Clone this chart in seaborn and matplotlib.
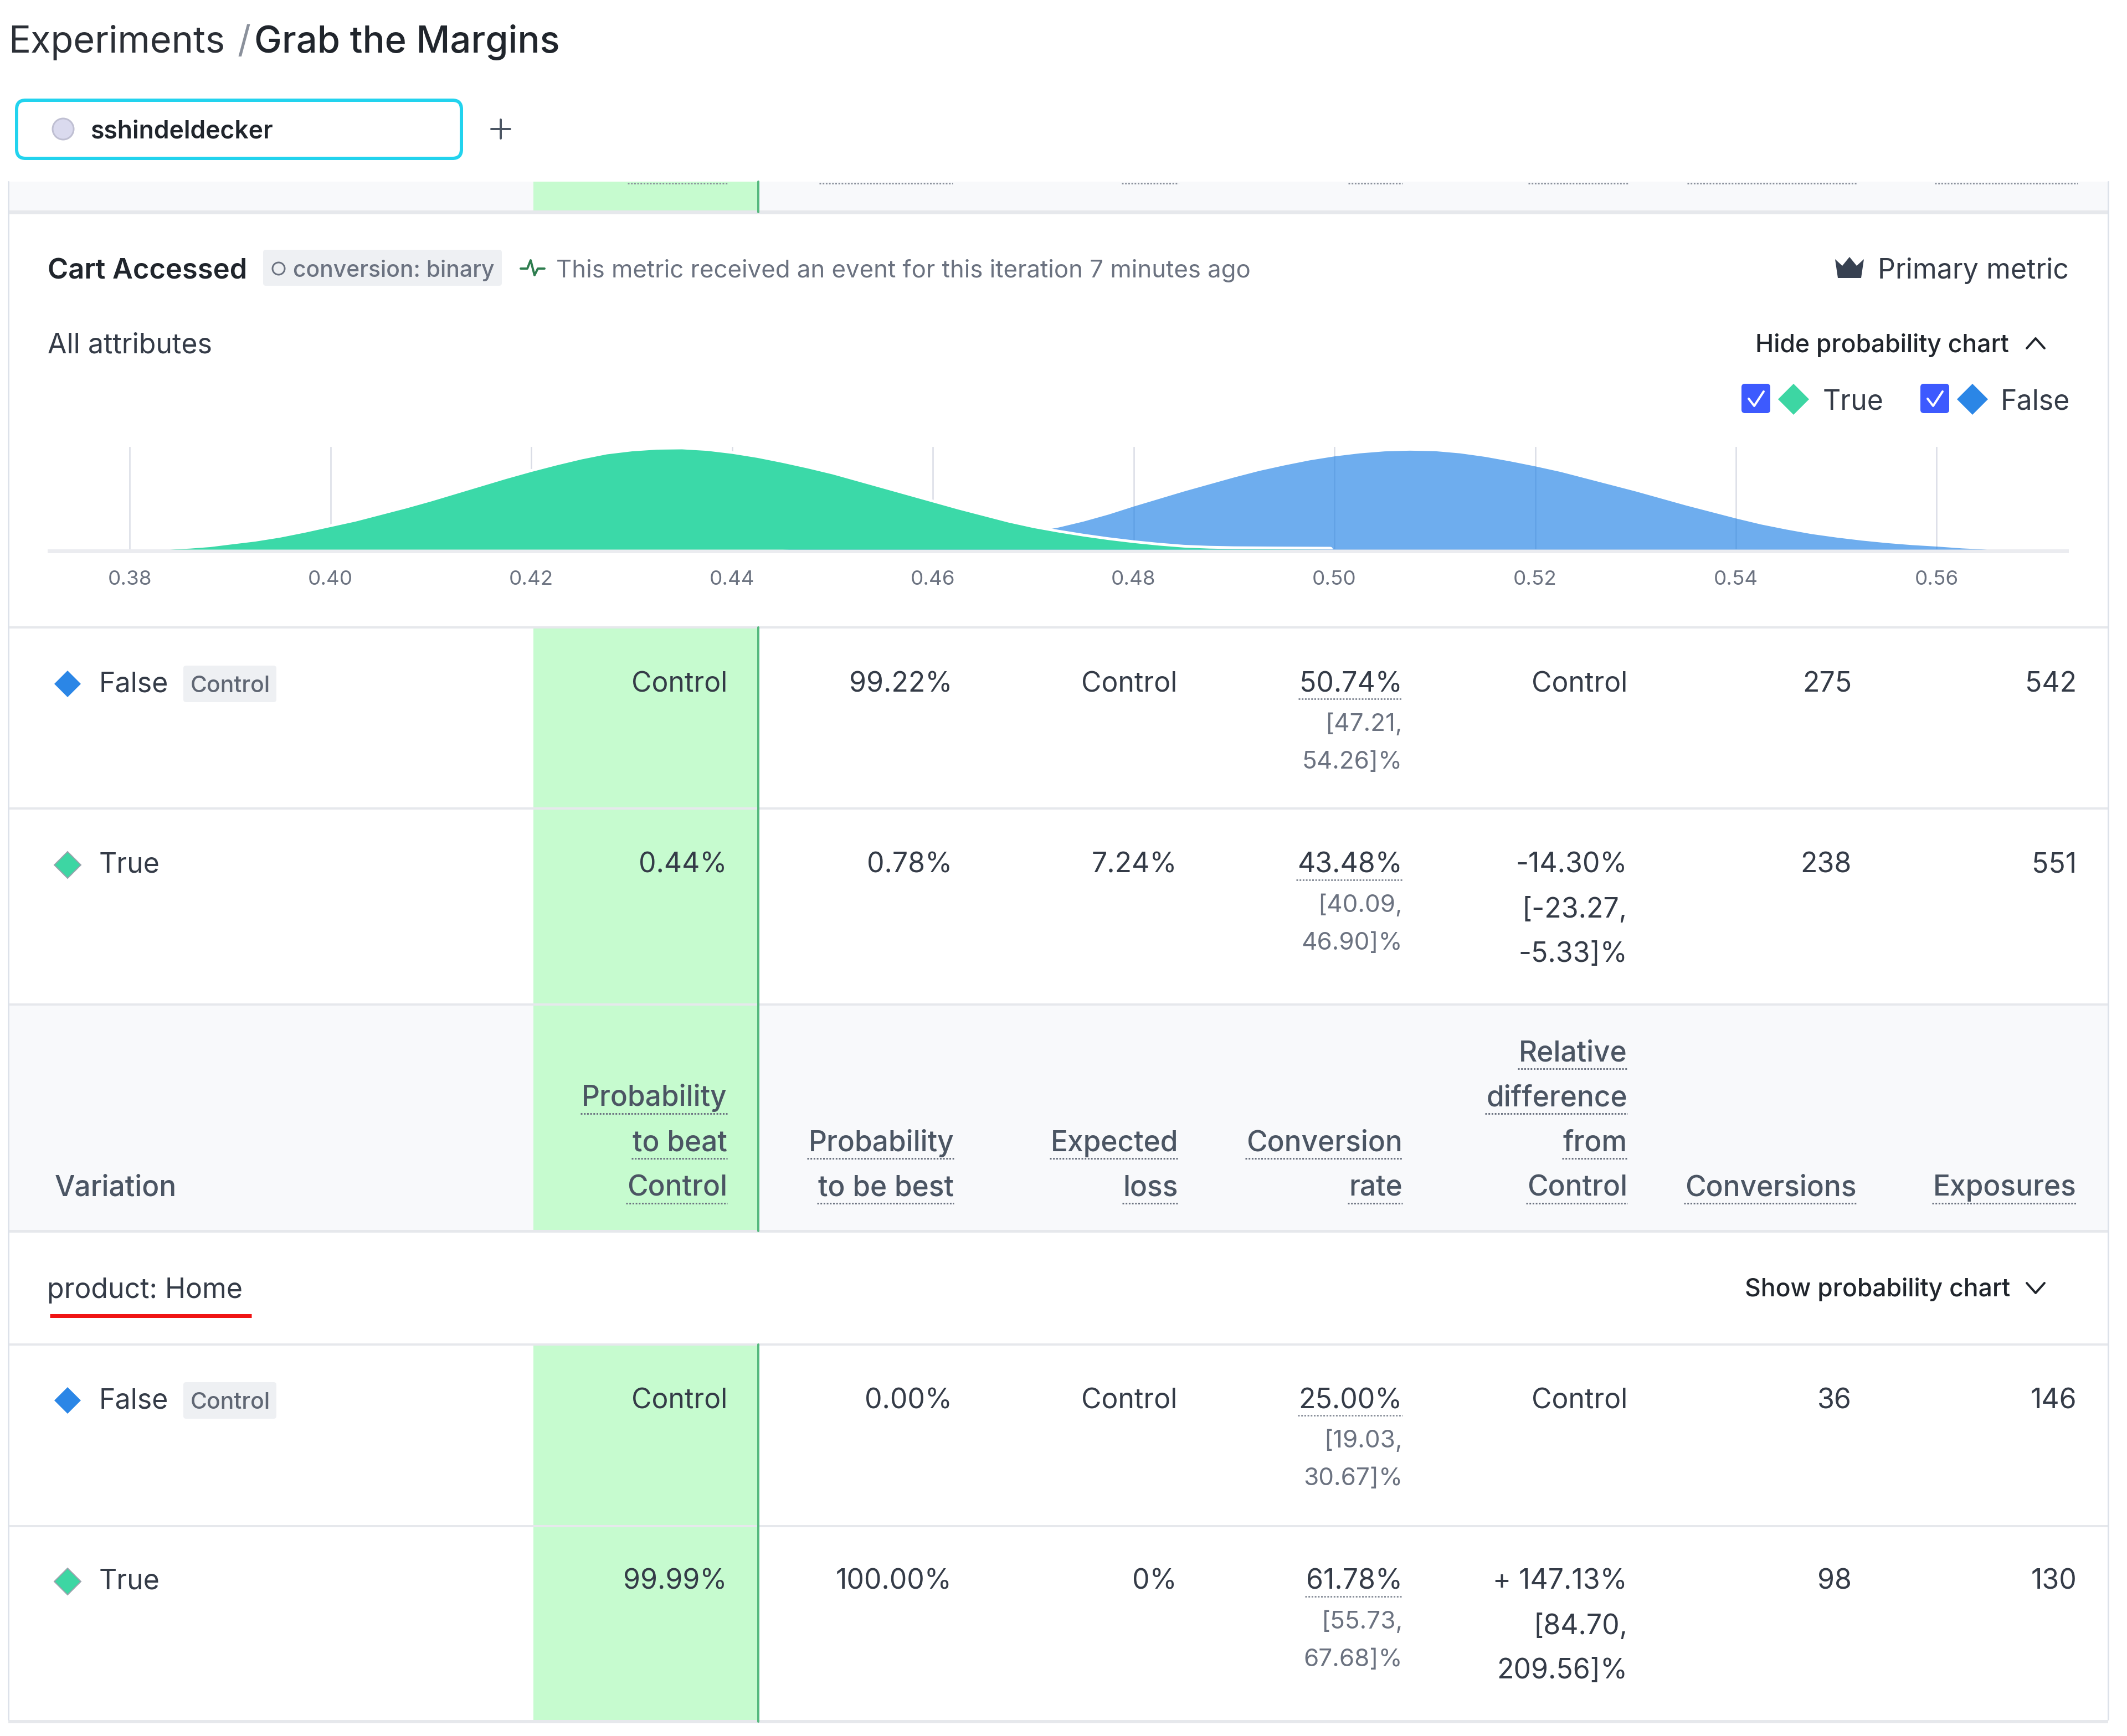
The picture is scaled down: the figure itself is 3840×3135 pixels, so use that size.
import matplotlib
matplotlib.use("Agg")
import matplotlib.pyplot as plt
from matplotlib.patches import Rectangle, FancyBboxPatch, Polygon, Circle
import pandas as pd
import seaborn as sns

# curve heights, % of the green peak
green_x = [0.384, 0.386, 0.388, 0.390, 0.3925, 0.395, 0.3975, 0.400, 0.4025, 0.405, 0.4075, 0.410,
           0.4125, 0.415, 0.4175, 0.420, 0.4225, 0.425, 0.4275, 0.430, 0.4325, 0.435, 0.4375, 0.440,
           0.4425, 0.445, 0.4475, 0.450, 0.4525, 0.455, 0.4575, 0.460, 0.4625, 0.465, 0.4675, 0.470,
           0.4725, 0.475, 0.4775, 0.480, 0.4825, 0.485, 0.4875, 0.490, 0.495, 0.4996]
green_y = [0, 1, 2.5, 5, 8, 12, 17, 22.5, 28, 34.5, 41, 48,
           55.5, 63, 70.5, 77.5, 84, 90, 95, 98, 99.7, 100, 98.5, 95.5,
           91.5, 86.5, 81, 75, 68, 61, 54, 47, 40, 33.5, 27, 21.5,
           17, 13, 9.5, 6.5, 4, 2, 1, 0.5, 0.2, 0]
blue_x = [0.445, 0.450, 0.455, 0.460, 0.465, 0.470, 0.4725, 0.475, 0.4775, 0.480, 0.4825, 0.485,
          0.4875, 0.490, 0.4925, 0.495, 0.4975, 0.500, 0.5025, 0.505, 0.5075, 0.510, 0.5125, 0.515,
          0.5175, 0.520, 0.5225, 0.525, 0.5275, 0.530, 0.5325, 0.535, 0.5375, 0.540, 0.5425, 0.545,
          0.5475, 0.550, 0.5525, 0.555, 0.5575, 0.560, 0.5625, 0.565]
blue_y = [0, 2, 4, 7, 11, 17.5, 22, 28, 35, 43, 50.5, 58,
          65, 72, 78.5, 84, 89, 93, 96, 98, 98.7, 98.2, 96, 92.5,
          88, 83, 77.5, 71, 64.5, 58, 51, 44, 37.5, 31, 25, 20,
          15.5, 12, 9, 6.5, 4.5, 3, 1.2, 0]
tick_values = [0.38, 0.40, 0.42, 0.44, 0.46, 0.48, 0.50, 0.52, 0.54, 0.56]

# table values
variations = ["False", "True", "False", "True"]
prob_beat = ["Control", "0.44%", "Control", "99.99%"]
prob_best = ["99.22%", "0.78%", "0.00%", "100.00%"]
exp_loss = ["Control", "7.24%", "Control", "0%"]
conv_rate = ["50.74%", "43.48%", "25.00%", "61.78%"]
conv_low = ["[47.21,", "[40.09,", "[19.03,", "[55.73,"]
conv_high = ["54.26]%", "46.90]%", "30.67]%", "67.68]%"]
rel_diff = ["Control", "-14.30%", "Control", "+ 147.13%"]
rel_low = ["", "[-23.27,", "", "[84.70,"]
rel_high = ["", "-5.33]%", "", "209.56]%"]
conversions = ["275", "238", "36", "98"]
exposures = ["542", "551", "146", "130"]
headers = [["Probability", "to beat", "Control"], ["Probability", "to be best"], ["Expected", "loss"],
           ["Conversion", "rate"], ["Relative", "difference", "from", "Control"], ["Conversions"], ["Exposures"]]

W, H = 3840, 3135
DPI = 100
BLUE = "#2B86E6"
GREEN = "#3DD6A3"
TEXT = "#343B47"
DARK = "#20252C"
GREY = "#6B7280"
LINE = "#E9EBEF"
BAND = "#F8F9FB"
LIGHT_GREEN = "#C6FBCF"

sns.set_theme(style="white")
plt.rcParams["font.family"] = ["Inter", "DejaVu Sans"]

fig = plt.figure(figsize=(W / DPI, H / DPI), dpi=DPI, facecolor="white")
ax = fig.add_axes([0, 0, 1, 1])
ax.set_xlim(0, W)
ax.set_ylim(H, 0)
ax.axis("off")


def px(v):
    return v * 72 / DPI


def label(x, y, s, size, color=TEXT, ha="left", weight="normal"):
    return ax.text(x, y + size / 0.72 * 0.36, s, fontsize=size, color=color, ha=ha, va="baseline", weight=weight)


def rect(x0, y0, x1, y1, color, z=1):
    ax.add_patch(Rectangle((x0, y0), x1 - x0, y1 - y0, facecolor=color, edgecolor="none", zorder=z))


def hline(x0, x1, y, color=LINE, w=4, z=2):
    ax.plot([x0, x1], [y, y], color=color, lw=px(w), zorder=z, solid_capstyle="butt")


def dotted(x0, x1, y, color="#8A909B"):
    ax.plot([x0, x1], [y, y], color=color, lw=px(3), linestyle=(0, (1, 0.9)), zorder=5)


def badge(x0, y0, x1, y1):
    ax.add_patch(FancyBboxPatch((x0 + 5, y0 + 5), x1 - x0 - 10, y1 - y0 - 10, boxstyle="round,pad=5",
                                facecolor="#EEF0F3", edgecolor="none", zorder=3))


def diamond(x, y, color, r=24, edge="none"):
    ax.add_patch(Polygon([(x, y - r), (x + r, y), (x, y + r), (x - r, y)], closed=True, facecolor=color,
                         edgecolor=edge, lw=px(2), zorder=5))


def chevron(x, y, up=True):
    d = -9 if up else 9
    ax.plot([x - 16, x, x + 16], [y - d, y + d, y - d], color=DARK, lw=px(4), zorder=5)


# page header
label(15, 71, "Experiments", 48, color="#2B2F36")
label(428, 71, "/", 48, color="#8A909B")
label(459, 71, "Grab the Margins", 48, color=DARK, weight="medium")
ax.add_patch(FancyBboxPatch((46, 197), 771, 73, boxstyle="round,pad=16", facecolor="white", edgecolor="#22D3EE",
                            lw=px(6), zorder=3))
ax.add_patch(Circle((114, 233), 19, facecolor="#DADAEE", edgecolor="#BFBFD2", lw=px(3), zorder=4))
label(163, 233, "sshindeldecker", 32, color=DARK, weight="semibold")
ax.plot([904, 904], [216, 250], color="#4B5563", lw=px(4), zorder=4)
ax.plot([887, 921], [233, 233], color="#4B5563", lw=px(4), zorder=4)

# bands, green column and borders
rect(15, 328, 3806, 383, BAND)
rect(15, 1814, 3806, 2223, BAND)
for y0, y1 in [(328, 383), (1133, 2223), (2428, 3109)]:
    rect(963, y0, 1369, y1, LIGHT_GREEN, z=1.5)
    ax.plot([1369, 1369], [y0, y1], color="#55B97E", lw=px(4), zorder=4)
for x0, x1 in [(1133, 1313), (1479, 1720), (2025, 2128), (2434, 2532), (2759, 2939), (3046, 3353), (3493, 3751)]:
    dotted(x0, x1, 331)
for y, w in [(383, 7), (1133, 4), (1460, 4), (1814, 4), (2223, 5), (2428, 4), (2756, 4), (3109, 6)]:
    hline(15, 3806, y, color="#E6E8EC", w=w, z=3)
ax.plot([15, 15], [328, 3105], color="#DDE2EA", lw=px(3), zorder=3)
ax.plot([3806, 3806], [328, 3105], color="#DDE2EA", lw=px(3), zorder=3)

# metric header
label(86, 485, "Cart Accessed", 36.5, color=DARK, weight="semibold")
badge(475, 451, 906, 516)
ax.add_patch(Circle((503, 485), 11, facecolor="none", edgecolor=GREY, lw=px(3), zorder=4))
label(529, 485, "conversion: binary", 29.4, color=GREY, weight="medium")
ax.plot([940, 952, 958, 965, 971, 983], [485, 485, 470, 497, 485, 485], color="#2E7D4F", lw=px(4), zorder=4)
label(1004, 485, "This metric received an event for this iteration 7 minutes ago", 31.5, color=GREY)
ax.add_patch(Polygon([(3313, 468), (3326, 480), (3339, 464), (3352, 480), (3365, 468), (3360, 502), (3318, 502)],
                     closed=True, facecolor="#374151", edgecolor="none", zorder=4))
label(3735, 485, "Primary metric", 36, ha="right")
label(86, 620, "All attributes", 36)
label(3169, 620, "Hide probability chart", 32, color=DARK, weight="medium")
chevron(3675, 620, up=True)

# legend
for x0, dx, name, col, tx in [(3144, 94, "True", GREEN, 3291), (3467, 94, "False", BLUE, 3612)]:
    ax.add_patch(FancyBboxPatch((x0 + 6, 699), 40, 41, boxstyle="round,pad=6", facecolor="#3D5AFE", edgecolor="none", zorder=4))
    ax.plot([x0 + 13, x0 + 23, x0 + 40], [720, 733, 707], color="white", lw=px(4), zorder=5)
    diamond(x0 + dx, 721, col, r=28)
    label(tx, 721, name, 36)

# probability chart: 0.38 sits at 234 px, 0.02 is 362.5 px, 100 % is 181 px
rect(86, 992, 3735, 999, "#EBECF0", z=2)
chart = fig.add_axes([86 / W, 1 - 992 / H, (3735 - 86) / W, 185 / H], facecolor="none")
chart.set_xlim(0.37183, 0.57316)
chart.set_ylim(0, 102.2)
chart.set_axisbelow(True)
chart.grid(axis="x", color="#DADDE6", lw=px(2.5))
chart.grid(axis="y", visible=False)
sns.despine(ax=chart, left=True, bottom=True)

blue_df = pd.DataFrame({"x": blue_x, "y": blue_y})
green_df = pd.DataFrame({"x": green_x, "y": green_y})
chart.fill_between(blue_df["x"], 0, blue_df["y"], color="#2082E5", alpha=0.65, lw=0, zorder=2)
sns.lineplot(data=green_df, x="x", y="y", color="white", lw=px(9), ax=chart, zorder=3, errorbar=None)
chart.fill_between(green_df["x"], 0, green_df["y"], color="#3BD9A8", lw=0, zorder=4)
chart.set_xticks(tick_values)
chart.set_xticklabels([f"{v:.2f}" for v in tick_values], fontsize=26.5, color="#6B7280")
chart.set_yticks([])
chart.set_xlabel("")
chart.set_ylabel("")
chart.tick_params(axis="x", length=0, pad=27)

# table
col_right = [1313, 1719, 2125, 2532, 2938, 3343, 3749]
row_y = [1231, 1558, 2525, 2852]
simple_cols = [prob_beat, prob_best, exp_loss, rel_diff, conversions, exposures]
simple_right = [col_right[0], col_right[1], col_right[2], col_right[4], col_right[5], col_right[6]]
renderer = fig.canvas.get_renderer()

for i, y in enumerate(row_y):
    name = variations[i]
    diamond(122, y + 4, BLUE if name == "False" else GREEN, edge="#9AA3AD" if name == "True" else "none")
    label(179, y, name, 36)
    if name == "False":
        badge(331, y - 29, 499, y + 37)
        label(416, y + 4, "Control", 29.5, color="#5F6673", ha="center", weight="medium")
    for col, right in zip(simple_cols, simple_right):
        label(right, y, col[i], 36, ha="right")
    t = label(col_right[3], y, conv_rate[i], 36, ha="right")
    bb = t.get_window_extent(renderer)
    dotted(bb.x0 - 2, col_right[3], y + 31)
    label(col_right[3], y + 73, conv_low[i], 31.7, color=GREY, ha="right")
    label(col_right[3], y + 141, conv_high[i], 31.7, color=GREY, ha="right")
    label(col_right[4], y + 81, rel_low[i], 36, ha="right")
    label(col_right[4], y + 161, rel_high[i], 36, ha="right")

# header row, last line of each column sits on the same baseline
head_right = [1313, 1722, 2127, 2532, 2938, 3352, 3749]
label(99, 2141, "Variation", 37, color="#4B5563", weight="medium")
for lines, right in zip(headers, head_right):
    for k, line in enumerate(reversed(lines)):
        y = 2141 - k * 81
        t = label(right, y, line, 37, color="#4B5563", ha="right", weight="medium")
        bb = t.get_window_extent(renderer)
        dotted(bb.x0 - 2, right, y + 32, color="#6B7280")

# segment header
label(85, 2326, "product: Home", 36, color=TEXT)
hline(90, 454, 2376, color="#F01414", w=7, z=4)
label(3150, 2325, "Show probability chart", 32, color=DARK, weight="medium")
chevron(3675, 2326, up=False)

fig.savefig("out.png", dpi=DPI, facecolor="white")
